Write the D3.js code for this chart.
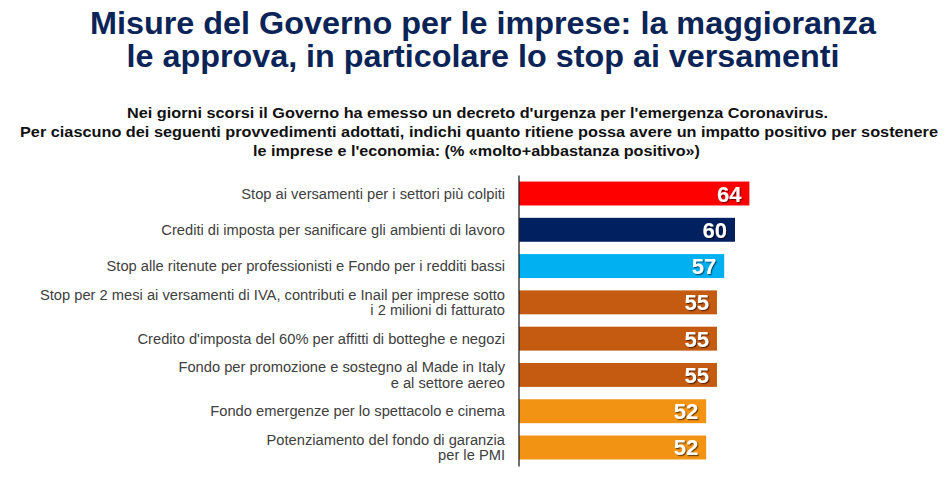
<!DOCTYPE html>
<html>
<head>
<meta charset="utf-8">
<script src="https://cdn.jsdelivr.net/npm/d3@7/dist/d3.min.js"></script>
<style>
  html, body { margin: 0; padding: 0; background: #fff; }
  svg { display: block; }
</style>
</head>
<body>
<svg id="chart" width="951" height="484"></svg>
<script>
const titleLines = [
  "Misure del Governo per le imprese: la maggioranza",
  "le approva, in particolare lo stop ai versamenti"
];
const subtitleLines = [
  "Nei giorni scorsi il Governo ha emesso un decreto d'urgenza per l'emergenza Coronavirus.",
  "Per ciascuno dei seguenti provvedimenti adottati, indichi quanto ritiene possa avere un impatto positivo per sostenere",
  "le imprese e l'economia: (% «molto+abbastanza positivo»)"
];
const categories = [
  "Stop ai versamenti per i settori più colpiti",
  "Crediti di imposta per sanificare gli ambienti di lavoro",
  "Stop alle ritenute per professionisti e Fondo per i redditi bassi",
  "Stop per 2 mesi ai versamenti di IVA, contributi e Inail per imprese sotto\ni 2 milioni di fatturato",
  "Credito d'imposta del 60% per affitti di botteghe e negozi",
  "Fondo per promozione e sostegno al Made in Italy\ne al settore aereo",
  "Fondo emergenze per lo spettacolo e cinema",
  "Potenziamento del fondo di garanzia\nper le PMI"
];
const values = [64, 60, 57, 55, 55, 55, 52, 52];
const barColors = ["#FF0000", "#002060", "#00B0F0", "#C55A11", "#C55A11", "#C55A11", "#F39313", "#F39313"];

const svg = d3.select("#chart");

// drop shadow for value labels
const defs = svg.append("defs");
const f = defs.append("filter").attr("id", "shadow").attr("x", "-20%").attr("y", "-20%").attr("width", "150%").attr("height", "150%");
f.append("feDropShadow").attr("dx", 1.2).attr("dy", 1.2).attr("stdDeviation", 0.7)
  .attr("flood-color", "#000").attr("flood-opacity", 0.55);

// Title
const titleWidths = [786, 713];
const titleY = [34, 67];
svg.append("g").selectAll("text").data(titleLines).join("text")
  .attr("x", 483).attr("y", (d, i) => titleY[i])
  .attr("text-anchor", "middle")
  .attr("font-family", "'Liberation Sans Narrow', 'Liberation Sans', Arial, sans-serif")
  .attr("font-weight", "bold").attr("font-size", 32)
  .attr("fill", "#0B2458")
  .attr("textLength", (d, i) => titleWidths[i]).attr("lengthAdjust", "spacingAndGlyphs")
  .text(d => d);

// Subtitle
const subWidths = [701, 918, 447];
const subX = [477.5, 479, 476.5];
const subY = [118, 137, 156];
svg.append("g").selectAll("text").data(subtitleLines).join("text")
  .attr("x", (d, i) => subX[i]).attr("y", (d, i) => subY[i])
  .attr("text-anchor", "middle")
  .attr("font-family", "'Liberation Sans Narrow', 'Liberation Sans', Arial, sans-serif")
  .attr("font-weight", "bold").attr("font-size", 14.5)
  .attr("fill", "#111")
  .attr("textLength", (d, i) => subWidths[i]).attr("lengthAdjust", "spacingAndGlyphs")
  .text(d => d);

// Scales
const x = d3.scaleLinear().domain([0, 100]).range([519, 879]);
const y = d3.scaleBand().domain(categories).range([175, 466]).paddingInner(0.34).paddingOuter(0.18);

// Bars
svg.append("g").selectAll("rect").data(values).join("rect")
  .attr("x", x(0))
  .attr("y", (d, i) => y(categories[i]))
  .attr("width", d => x(d) - x(0))
  .attr("height", y.bandwidth())
  .attr("fill", (d, i) => barColors[i]);

// Axis (vertical line)
const yAxis = d3.axisLeft(y).tickSize(0).tickFormat("");
const axisG = svg.append("g").attr("transform", `translate(${x(0) - 0.5},0)`).call(yAxis);
axisG.select(".domain").attr("stroke", "#222").attr("stroke-width", 1.3);

// Category labels
const lab = svg.append("g");
categories.forEach((c, i) => {
  const lines = c.split("\n");
  const cy = y(c) + y.bandwidth() / 2;
  const lh = 15.5;
  const t = lab.append("text")
    .attr("text-anchor", "end")
    .attr("font-family", "'Liberation Sans', Arial, sans-serif")
    .attr("font-size", 14.7)
    .attr("fill", "#404040");
  lines.forEach((ln, j) => {
    t.append("tspan")
      .attr("x", 505)
      .attr("y", cy + (j - (lines.length - 1) / 2) * lh + 5)
      .text(ln);
  });
});

// Value labels
svg.append("g").selectAll("text").data(values).join("text")
  .attr("x", d => x(d) - 8)
  .attr("y", (d, i) => y(categories[i]) + y.bandwidth() / 2 + 8)
  .attr("text-anchor", "end")
  .attr("font-family", "'Liberation Sans', Arial, sans-serif")
  .attr("font-weight", "bold").attr("font-size", 22)
  .attr("fill", "#fff")
  .attr("filter", "url(#shadow)")
  .text(d => d);
</script>
</body>
</html>
